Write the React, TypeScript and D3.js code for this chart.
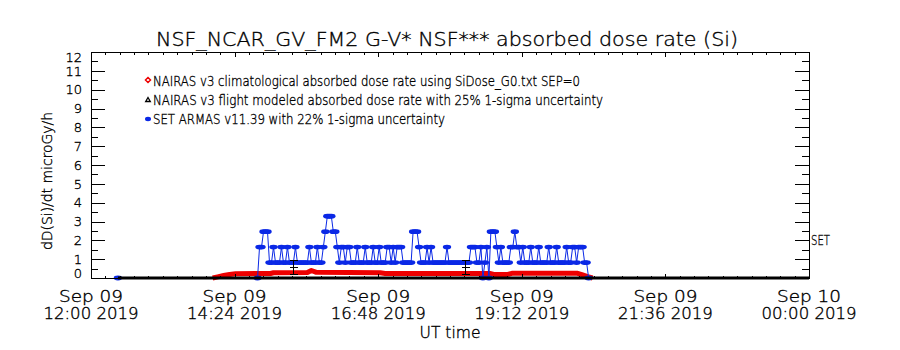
import { useEffect, useRef } from 'react';
import * as d3 from 'd3';

const titleText = 'NSF_NCAR_GV_FM2 G-V* NSF*** absorbed dose rate (Si)';
const yAxisTitle = 'dD(Si)/dt microGy/h';
const xAxisTitle = 'UT time';
const yTicks = [0, 1, 2, 3, 4, 5, 6, 7, 8, 9, 10, 11, 12];
const xTickStamps = [
  '2019-09-09T12:00',
  '2019-09-09T14:24',
  '2019-09-09T16:48',
  '2019-09-09T19:12',
  '2019-09-09T21:36',
  '2019-09-10T00:00',
];
const xTickDays = ['Sep 09', 'Sep 09', 'Sep 09', 'Sep 09', 'Sep 09', 'Sep 10'];
const xTickTimes = ['12:00 2019', '14:24 2019', '16:48 2019', '19:12 2019', '21:36 2019', '00:00 2019'];

const legendLabels = [
  'NAIRAS v3 climatological absorbed dose rate using SiDose_G0.txt SEP=0',
  'NAIRAS v3 flight modeled absorbed dose rate with 25% 1-sigma uncertainty',
  'SET ARMAS v11.39 with 22% 1-sigma uncertainty',
];

// NAIRAS climatological (red)
const climTimes = [
  '14:02', '14:07', '14:13', '14:19', '14:25', '15:00', '15:03', '15:37', '15:41', '15:46',
  '16:50', '16:55', '18:40', '18:44', '18:58', '19:02', '20:08', '20:13', '20:18', '20:23',
];
const climValues = [
  0, 0.06, 0.13, 0.19, 0.23, 0.24, 0.28, 0.29, 0.4, 0.3,
  0.28, 0.24, 0.24, 0.19, 0.19, 0.25, 0.25, 0.16, 0.07, 0,
];

// NAIRAS flight modeled (black)
const flightTimes = ['2019-09-09T12:27', '2019-09-10T00:00'];
const flightValues = [0, 0];
const flightErrTimes = ['15:23', '18:15'];
const flightErrMid = [0.58, 0.58];
const flightErrLow = [0.21, 0.21];
const flightErrHigh = [0.96, 0.96];

// ARMAS (blue), 2-min samples, value = level * quantum
const armasFirstTime = '12:27';
const armasStartTime = '14:47';
const armasStepMin = 2;
const armasQuantum = 0.82;
const armasLevels = [
  0,
  2, 2, 3, 3, 3, 1, 1, 2, 1, 1,
  1, 2, 1, 1, 2, 1, 1, 1, 2, 1,
  1, 1, 1, 1, 1, 2, 1, 1, 1, 2,
  1, 1, 2, 3, 4, 4, 4, 3, 3, 2,
  1, 2, 2, 1, 2, 2, 1, 1, 1, 2,
  1, 1, 1, 2, 1, 1, 1, 2, 1, 1,
  2, 1, 1, 1, 2, 2, 1, 2, 1, 2,
  2, 2, 1, 1, 1, 1, 1, 3, 3, 3,
  2, 1, 1, 1, 2, 1, 2, 1, 1, 1,
  1, 1, 1, 1, 2, 1, 1, 1, 1, 1,
  1, 1, 1, 1, 1, 1, 2, 2, 2, 1,
  1, 2, 0, 1, 2, 0, 3, 3, 3, 2,
  1, 2, 1, 1, 1, 1, 2, 2, 3, 2,
  2, 1, 2, 1, 1, 1, 2, 1, 1, 1,
  2, 1, 1, 1, 1, 2, 1, 1, 1, 2,
  1, 1, 1, 1, 2, 1, 1, 2, 2, 1,
  2, 2, 2, 1, 1, 0,
];

const FONT = "'DejaVu Sans', sans-serif";
const RED = '#ee0000';
const BLUE = '#0a28e6';

const parseStamp = d3.utcParse('%Y-%m-%dT%H:%M');
const onDay = (hm: string) => parseStamp(`2019-09-09T${hm}`) as Date;

export default function App() {
  const svgRef = useRef<SVGSVGElement>(null);

  useEffect(() => {
    if (!svgRef.current) return;
    const svg = d3.select(svgRef.current);
    svg.selectAll('*').remove();

    const left = 91, right = 809, top = 52, bottom = 278;
    const majors = xTickStamps.map((s) => parseStamp(s) as Date);
    const x = d3.scaleUtc().domain([majors[0], majors[majors.length - 1]]).range([left, right]);
    const y = d3.scaleLinear().domain([0, 12]).range([bottom, top]);

    svg.append('rect').attr('width', 900).attr('height', 350).attr('fill', '#fff');

    // data
    const clim = climTimes.map((t, i) => ({ t: onDay(t), v: climValues[i] }));
    const start = onDay(armasStartTime);
    const armas = [{ t: onDay(armasFirstTime), v: 0 }].concat(
      armasLevels.map((l, i) => ({
        t: d3.utcMinute.offset(start, i * armasStepMin),
        v: l * armasQuantum,
      }))
    );
    const flight = flightTimes.map((t, i) => ({ t: parseStamp(t) as Date, v: flightValues[i] }));

    const line = d3
      .line<{ t: Date; v: number }>()
      .x((d) => x(d.t))
      .y((d) => y(d.v));

    const plot = svg.append('g');

    plot.append('path')
      .attr('d', line(clim))
      .attr('fill', 'none')
      .attr('stroke', RED)
      .attr('stroke-width', 5)
      .attr('stroke-linejoin', 'round');

    plot.append('path')
      .attr('d', line(armas))
      .attr('fill', 'none')
      .attr('stroke', BLUE)
      .attr('stroke-width', 1);

    plot.selectAll('.armas')
      .data(armas)
      .join('ellipse')
      .attr('class', 'armas')
      .attr('cx', (d) => x(d.t))
      .attr('cy', (d) => y(d.v))
      .attr('rx', 4.2)
      .attr('ry', 2.4)
      .attr('fill', BLUE);

    plot.append('path')
      .attr('d', line(flight))
      .attr('fill', 'none')
      .attr('stroke', '#000')
      .attr('stroke-width', 3);

    flightErrTimes.forEach((t, i) => {
      const cx = Math.round(x(onDay(t))) + 0.5;
      const g = plot.append('g').attr('stroke', '#000').attr('stroke-width', 1).attr('shape-rendering', 'crispEdges');
      g.append('line').attr('x1', cx).attr('x2', cx).attr('y1', y(flightErrLow[i])).attr('y2', y(flightErrHigh[i]));
      [flightErrLow[i], flightErrMid[i], flightErrHigh[i]].forEach((v) => {
        const yy = Math.round(y(v)) + 0.5;
        g.append('line').attr('x1', cx - 4).attr('x2', cx + 4).attr('y1', yy).attr('y2', yy);
      });
    });

    // frame and ticks
    const axes = svg.append('g').attr('stroke', '#000').attr('stroke-width', 1).attr('shape-rendering', 'crispEdges');
    axes.append('rect')
      .attr('x', left + 0.5).attr('y', top + 0.5)
      .attr('width', right - left).attr('height', bottom - top)
      .attr('fill', 'none');

    const xMinor: Date[] = [];
    for (let k = 0; k < majors.length - 1; k++) {
      const a = majors[k].getTime();
      const b = majors[k + 1].getTime();
      d3.range(1, 10).forEach((j) => xMinor.push(new Date(a + ((b - a) * j) / 10)));
    }
    const xt = (d: Date) => Math.round(x(d)) + 0.5;
    majors.forEach((d) => {
      axes.append('line').attr('x1', xt(d)).attr('x2', xt(d)).attr('y1', bottom).attr('y2', bottom - 4.5);
      axes.append('line').attr('x1', xt(d)).attr('x2', xt(d)).attr('y1', top).attr('y2', top + 4.5);
    });
    xMinor.forEach((d) => {
      axes.append('line').attr('x1', xt(d)).attr('x2', xt(d)).attr('y1', bottom).attr('y2', bottom - 2.5);
      axes.append('line').attr('x1', xt(d)).attr('x2', xt(d)).attr('y1', top).attr('y2', top + 2.5);
    });

    const yt = (v: number) => Math.round(y(v)) + 0.5;
    yTicks.forEach((v) => {
      axes.append('line').attr('x1', left).attr('x2', left + 14).attr('y1', yt(v)).attr('y2', yt(v));
      axes.append('line').attr('x1', right).attr('x2', right - 14).attr('y1', yt(v)).attr('y2', yt(v));
    });
    d3.range(0.5, 12, 1).forEach((v) => {
      axes.append('line').attr('x1', left).attr('x2', left + 7).attr('y1', yt(v)).attr('y2', yt(v));
      axes.append('line').attr('x1', right).attr('x2', right - 7).attr('y1', yt(v)).attr('y2', yt(v));
    });

    // text: thin glyphs darkened with a hairline stroke
    const txt = svg.append('g')
      .attr('font-family', FONT)
      .attr('font-weight', 200)
      .attr('fill', '#000')
      .attr('stroke', '#000')
      .attr('stroke-width', 0.35);

    txt.append('text')
      .attr('x', 156).attr('y', 46)
      .attr('font-size', 19)
      .attr('textLength', 582).attr('lengthAdjust', 'spacingAndGlyphs')
      .text(titleText);

    yTicks.forEach((v) => {
      const cy = Math.min(Math.max(y(v), top + 5.5), bottom - 4.5);
      txt.append('text')
        .attr('x', 82).attr('y', cy + 4.7)
        .attr('text-anchor', 'end')
        .attr('font-size', 13)
        .text(String(v));
    });

    majors.forEach((d, i) => {
      txt.append('text')
        .attr('x', x(d)).attr('y', 302)
        .attr('text-anchor', 'middle').attr('font-size', 15)
        .attr('textLength', 64).attr('lengthAdjust', 'spacingAndGlyphs')
        .text(xTickDays[i]);
      txt.append('text')
        .attr('x', x(d)).attr('y', 319)
        .attr('text-anchor', 'middle').attr('font-size', 15)
        .attr('textLength', 95).attr('lengthAdjust', 'spacingAndGlyphs')
        .text(xTickTimes[i]);
    });

    txt.append('text')
      .attr('x', 450).attr('y', 338)
      .attr('text-anchor', 'middle').attr('font-size', 15)
      .attr('textLength', 61).attr('lengthAdjust', 'spacingAndGlyphs')
      .text(xAxisTitle);

    txt.append('text')
      .attr('transform', 'translate(52,181) rotate(-90)')
      .attr('text-anchor', 'middle').attr('font-size', 14)
      .attr('textLength', 138).attr('lengthAdjust', 'spacingAndGlyphs')
      .text(yAxisTitle);

    txt.append('text')
      .attr('x', 811).attr('y', 245)
      .attr('font-size', 14)
      .attr('textLength', 19).attr('lengthAdjust', 'spacingAndGlyphs')
      .text('SET');

    // legend
    const legendY = [85.5, 105, 123.5];
    const legendW = [427, 450, 292];
    legendLabels.forEach((label, i) => {
      txt.append('text')
        .attr('x', 153).attr('y', legendY[i])
        .attr('font-size', 13.5)
        .attr('textLength', legendW[i]).attr('lengthAdjust', 'spacingAndGlyphs')
        .text(label);
    });
    const sx = 148;
    svg.append('path')
      .attr('d', `M${sx},${legendY[0] - 8} l2.5,2.5 l-2.5,2.5 l-2.5,-2.5 z`)
      .attr('fill', 'none').attr('stroke', RED).attr('stroke-width', 1.5);
    svg.append('path')
      .attr('d', `M${sx},${legendY[1] - 7.5} l2.3,4 l-4.6,0 z`)
      .attr('fill', 'none').attr('stroke', '#000').attr('stroke-width', 1.3);
    svg.append('ellipse')
      .attr('cx', sx).attr('cy', legendY[2] - 4.5)
      .attr('rx', 3).attr('ry', 2.2)
      .attr('fill', BLUE);
  }, []);

  return (
    <svg
      ref={svgRef}
      width={900}
      height={350}
      style={{ position: 'absolute', left: 0, top: 0 }}
    />
  );
}
